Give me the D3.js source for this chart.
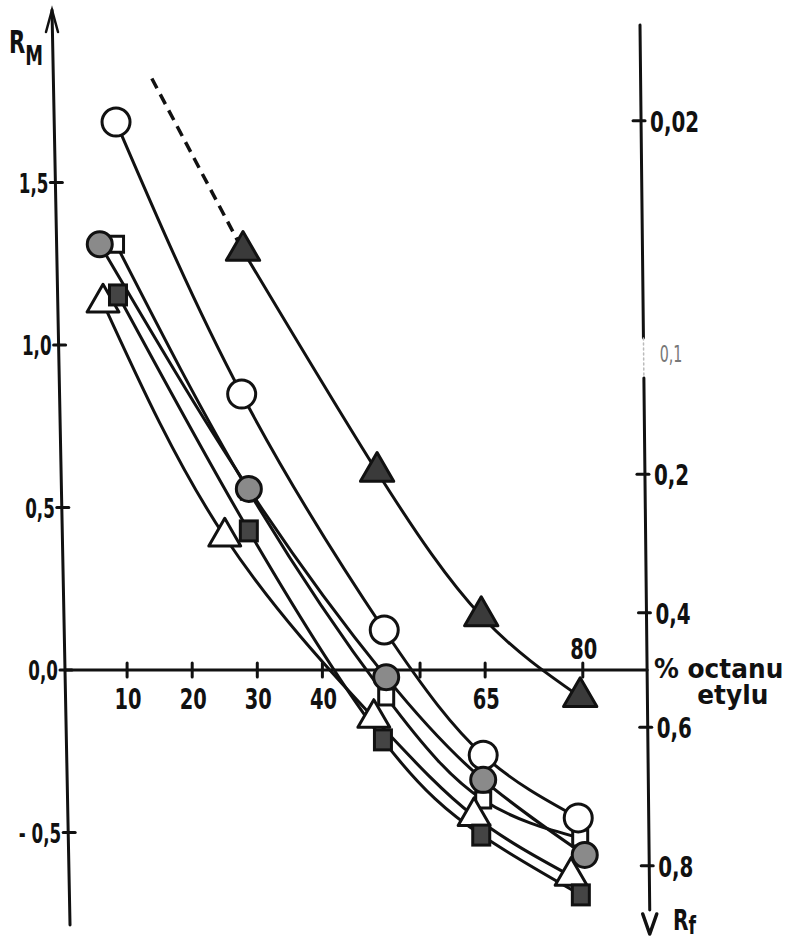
<!DOCTYPE html>
<html>
<head>
<meta charset="utf-8">
<script src="https://cdn.jsdelivr.net/npm/d3@7"></script>
<style>
  body { margin: 0; background: #fff; }
  text { font-family: "DejaVu Sans", "Liberation Sans", sans-serif; font-weight: bold; fill: #111; }
</style>
</head>
<body>
<svg id="chart" width="793" height="943"></svg>
<script>
// R_M against % of ethyl acetate in the mobile phase, six compounds
const openCircleX   = [8.3, 27.6, 49.5, 64.7, 79.3];
const openCircleY   = [1.686, 0.849, 0.123, -0.262, -0.455];

const grayCircleX   = [5.8, 28.7, 49.8, 64.7, 80.3];
const grayCircleY   = [1.31, 0.557, -0.022, -0.338, -0.569];

const openSquareX   = [8.3, 28.7, 49.8, 64.7, 79.6];
const openSquareY   = [1.31, 0.55, -0.083, -0.40, -0.517];

const openTriangleX = [6.3, 25.0, 47.9, 63.3, 78.2];
const openTriangleY = [1.13, 0.41, -0.148, -0.45, -0.634];

const fullSquareX   = [8.6, 28.7, 49.3, 64.4, 79.7];
const fullSquareY   = [1.154, 0.428, -0.215, -0.508, -0.692];

const fullTriangleX = [27.8, 48.4, 64.4, 79.6];
const fullTriangleY = [1.29, 0.61, 0.166, -0.083];

// extrapolated (dashed) part of the filled-triangle curve
const dashedX = [13.8, 27.8];
const dashedY = [1.82, 1.29];

// axis ticks
const xTicks       = [10, 20, 30, 40, 55, 65, 80];
const xTickLabels  = ["10", "20", "30", "40", "", "65", "80"];
const xLabelsAbove = [80];
const rmTicks      = [1.5, 1.0, 0.5, 0.0, -0.5];
const rmTickLabels = ["1,5", "1,0", "0,5", "0,0", "- 0,5"];
const rfTicks      = [0.02, 0.1, 0.2, 0.4, 0.6, 0.8];
const rfTickLabels = ["0,02", "0,1", "0,2", "0,4", "0,6", "0,8"];

const svg = d3.select("#chart");

const x = d3.scaleLinear().domain([0, 80]).range([62, 582.8]);
const y = d3.scaleLinear().domain([0, 1.5]).range([670, 182.5]);
// R_f scale on the right: R_M = log10(1/R_f - 1)
const rfToRm = rf => Math.log10(1 / rf - 1);

// the two hand-drawn vertical axes lean slightly to the right
const leftAxisX  = py => 52 + (py - 10) * 0.0197;
const rightAxisX = py => 640 + (py - 25) * 0.011;

const ink = "#111";

function label(g, s, px, py, size, sx, anchor, extra) {
  const t = g.append("text")
    .attr("transform", `translate(${px},${py}) scale(${sx},1)`)
    .attr("text-anchor", anchor || "start")
    .attr("font-size", size)
    .text(s);
  if (extra) extra(t);
  return t;
}

const axes = svg.append("g").attr("stroke", ink).attr("stroke-width", 3).attr("fill", "none")
  .attr("stroke-linecap", "round");

// left R_M axis with arrow
const lTop = 10, lBot = 925;
axes.append("line").attr("x1", leftAxisX(lTop)).attr("y1", lTop)
  .attr("x2", leftAxisX(lBot)).attr("y2", lBot);
axes.append("path")
  .attr("d", `M${leftAxisX(lTop) - 6},${lTop + 22} L${leftAxisX(lTop)},${lTop} L${leftAxisX(lTop) + 6},${lTop + 22}`)
  .attr("stroke-width", 2.5);
rmTicks.forEach((v, i) => {
  const py = y(v), ax = leftAxisX(py);
  axes.append("line").attr("x1", ax - 5).attr("y1", py).attr("x2", ax + 7).attr("y2", py);
  label(svg, rmTickLabels[i], ax - 7, py + 10, 27, 0.62, "end");
});

// horizontal axis at R_M = 0
axes.append("line").attr("x1", leftAxisX(y(0))).attr("y1", y(0))
  .attr("x2", rightAxisX(y(0))).attr("y2", y(0));
xTicks.forEach((v, i) => {
  const px = x(v);
  axes.append("line").attr("x1", px).attr("y1", y(0) - 7).attr("x2", px).attr("y2", y(0) + 7);
  if (xTickLabels[i]) {
    const above = xLabelsAbove.includes(v);
    label(svg, xTickLabels[i], px + 1, above ? y(0) - 11 : y(0) + 39, 29, 0.67, "middle");
  }
});

// right R_f axis, pointing down
const rTop = 25, rBot = 910;
const gapTop = 338, gapBot = 378;
axes.append("line").attr("x1", rightAxisX(rTop)).attr("y1", rTop)
  .attr("x2", rightAxisX(gapTop)).attr("y2", gapTop);
axes.append("line").attr("x1", rightAxisX(gapTop)).attr("y1", gapTop)
  .attr("x2", rightAxisX(gapBot)).attr("y2", gapBot)
  .attr("stroke", "#bbb").attr("stroke-width", 1.5).attr("stroke-dasharray", "2 3");
axes.append("line").attr("x1", rightAxisX(gapBot)).attr("y1", gapBot)
  .attr("x2", rightAxisX(rBot)).attr("y2", rBot);
axes.append("path")
  .attr("d", `M${rightAxisX(rBot) - 7},${rBot + 4} L${rightAxisX(rBot)},${rBot + 24} L${rightAxisX(rBot) + 7},${rBot + 4}`)
  .attr("stroke-width", 3.5).attr("stroke-linejoin", "round");
rfTicks.forEach((rf, i) => {
  const py = y(rfToRm(rf)), ax = rightAxisX(py);
  const faint = rf === 0.1;
  if (!faint) axes.append("line").attr("x1", ax - 8).attr("y1", py).attr("x2", ax + 4).attr("y2", py);
  label(svg, rfTickLabels[i], ax + (faint ? 16 : 9), py + (faint ? 2 : 11), faint ? 23 : 28, faint ? 0.62 : 0.71, "start",
    t => { if (faint) t.style("fill", "#777").style("font-weight", "normal"); });
});

// axis titles
const rm = svg.append("text").attr("transform", "translate(9,53) scale(0.66,1)").attr("font-size", 32);
rm.append("tspan").text("R");
rm.append("tspan").attr("font-size", 27).attr("dy", 12).text("M");
const rf = svg.append("text").attr("transform", "translate(673,930) scale(0.72,1)").attr("font-size", 28);
rf.append("tspan").text("R");
rf.append("tspan").attr("font-size", 24).attr("dy", 4).text("f");
// two-line title of the horizontal axis, set tight as one block
const xTitle = svg.append("text").attr("transform", "translate(654,678) scale(0.92,1)").attr("font-size", 27);
xTitle.append("tspan").attr("x", 0).attr("dy", 0).text("% octanu");
xTitle.append("tspan").attr("x", 47).attr("dy", 26).text("etylu");

// curves
const line = d3.line().x(d => x(d[0])).y(d => y(d[1])).curve(d3.curveNatural);
const zip = (xs, ys) => xs.map((v, i) => [v, ys[i]]);

const series = [
  { key: "openSquare",   pts: zip(openSquareX, openSquareY) },
  { key: "openTriangle", pts: zip(openTriangleX, openTriangleY) },
  { key: "openCircle",   pts: zip(openCircleX, openCircleY) },
  { key: "grayCircle",   pts: zip(grayCircleX, grayCircleY) },
  { key: "fullSquare",   pts: zip(fullSquareX, fullSquareY) },
  { key: "fullTriangle", pts: zip(fullTriangleX, fullTriangleY) }
];

const curves = svg.append("g").attr("fill", "none").attr("stroke", ink).attr("stroke-width", 3);
series.forEach(s => curves.append("path").attr("d", line(s.pts)));
curves.append("path").attr("d", d3.line().x(d => x(d[0])).y(d => y(d[1]))(zip(dashedX, dashedY)))
  .attr("stroke-width", 3.5).attr("stroke-dasharray", "11 7");

// markers
const marks = svg.append("g").attr("stroke", ink).attr("stroke-width", 3);
const tri = (size) => d3.symbol().type(d3.symbolTriangle).size(size)();

function drawMarker(key, px, py) {
  switch (key) {
    case "openCircle":
      marks.append("circle").attr("cx", px).attr("cy", py).attr("r", 14).attr("fill", "#fff"); break;
    case "grayCircle":
      marks.append("circle").attr("cx", px).attr("cy", py).attr("r", 12.5).attr("fill", "#8a8a8a"); break;
    case "openSquare":
      marks.append("rect").attr("x", px - 7.5).attr("y", py - 8).attr("width", 15).attr("height", 16).attr("fill", "#fff"); break;
    case "fullSquare":
      marks.append("rect").attr("x", px - 8.5).attr("y", py - 10).attr("width", 17).attr("height", 20).attr("fill", "#444"); break;
    case "openTriangle":
      marks.append("path").attr("d", tri(440)).attr("transform", `translate(${px},${py})`).attr("fill", "#fff")
        .attr("stroke-linejoin", "round"); break;
    case "fullTriangle":
      marks.append("path").attr("d", tri(480)).attr("transform", `translate(${px},${py})`).attr("fill", "#3a3a3a")
        .attr("stroke-linejoin", "round"); break;
  }
}
series.forEach(s => s.pts.forEach(p => drawMarker(s.key, x(p[0]), y(p[1]))));
</script>
</body>
</html>
